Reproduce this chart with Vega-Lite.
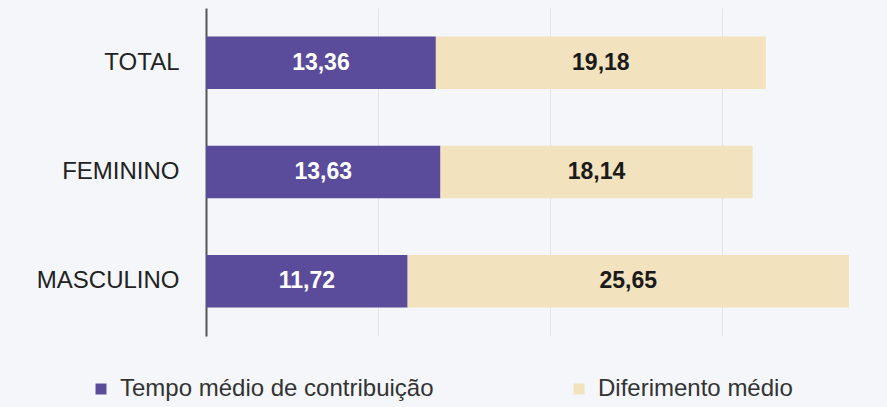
{
  "$schema": "https://vega.github.io/schema/vega-lite/v6.json",
  "width": 671,
  "height": 328,
  "autosize": "none",
  "padding": {"left": 206, "top": 8, "right": 10, "bottom": 71},
  "background": "#f4f6f9",
  "config": {
    "locale": {"number": {"decimal": ",", "thousands": ".", "grouping": [3], "currency": ["", ""]}},
    "view": {"stroke": null}
  },
  "data": {
    "values": [
      {"grupo": "TOTAL", "serie": "Tempo médio de contribuição", "ordem": 1, "valor": 13.36},
      {"grupo": "TOTAL", "serie": "Diferimento médio", "ordem": 2, "valor": 19.18},
      {"grupo": "FEMININO", "serie": "Tempo médio de contribuição", "ordem": 1, "valor": 13.63},
      {"grupo": "FEMININO", "serie": "Diferimento médio", "ordem": 2, "valor": 18.14},
      {"grupo": "MASCULINO", "serie": "Tempo médio de contribuição", "ordem": 1, "valor": 11.72},
      {"grupo": "MASCULINO", "serie": "Diferimento médio", "ordem": 2, "valor": 25.65}
    ]
  },
  "transform": [
    {"stack": "valor", "groupby": ["grupo"], "sort": [{"field": "ordem", "order": "ascending"}], "as": ["v0", "v1"]}
  ],
  "encoding": {
    "y": {
      "field": "grupo",
      "type": "nominal",
      "sort": ["TOTAL", "FEMININO", "MASCULINO"],
      "scale": {"paddingInner": 0.52, "paddingOuter": 0.26},
      "axis": {
        "title": null,
        "ticks": false,
        "domainColor": "#555555",
        "domainWidth": 2,
        "labelFontSize": 24,
        "labelFont": "Liberation Sans",
        "labelColor": "#222222",
        "labelPadding": 27
      }
    }
  },
  "layer": [
    {
      "mark": {"type": "bar"},
      "encoding": {
        "x": {
          "field": "v0",
          "type": "quantitative",
          "scale": {"domain": [0, 39], "nice": false},
          "axis": {
            "grid": true,
            "values": [10, 20, 30],
            "labels": false,
            "ticks": false,
            "domain": false,
            "title": null,
            "gridColor": "#e1e4e8"
          }
        },
        "x2": {"field": "v1"},
        "color": {
          "field": "serie",
          "type": "nominal",
          "scale": {
            "domain": ["Tempo médio de contribuição", "Diferimento médio"],
            "range": ["#5a4c9b", "#f2e2be"]
          },
          "legend": {
            "title": null,
            "orient": "none",
            "legendX": -117,
            "legendY": 369,
            "direction": "horizontal",
            "columnPadding": 133,
            "symbolType": "square",
            "symbolSize": 120,
            "symbolStrokeWidth": 0,
            "labelFontSize": 24,
            "labelFont": "Liberation Sans",
            "labelColor": "#333333",
            "labelOffset": 7,
            "labelLimit": 0
          }
        }
      }
    },
    {
      "transform": [
        {"fold": ["v0", "v1"], "as": ["k", "pos"]},
        {"aggregate": [{"op": "mean", "field": "pos", "as": "mid"}], "groupby": ["grupo", "serie", "valor"]}
      ],
      "mark": {"type": "text", "fontWeight": "bold", "fontSize": 23, "font": "Liberation Sans", "baseline": "middle", "align": "center"},
      "encoding": {
        "x": {"field": "mid", "type": "quantitative"},
        "text": {"field": "valor", "type": "quantitative", "format": ".2f"},
        "color": {
          "condition": {"test": "datum.serie === 'Tempo médio de contribuição'", "value": "#ffffff"},
          "value": "#1a1a1a"
        }
      }
    }
  ]
}
